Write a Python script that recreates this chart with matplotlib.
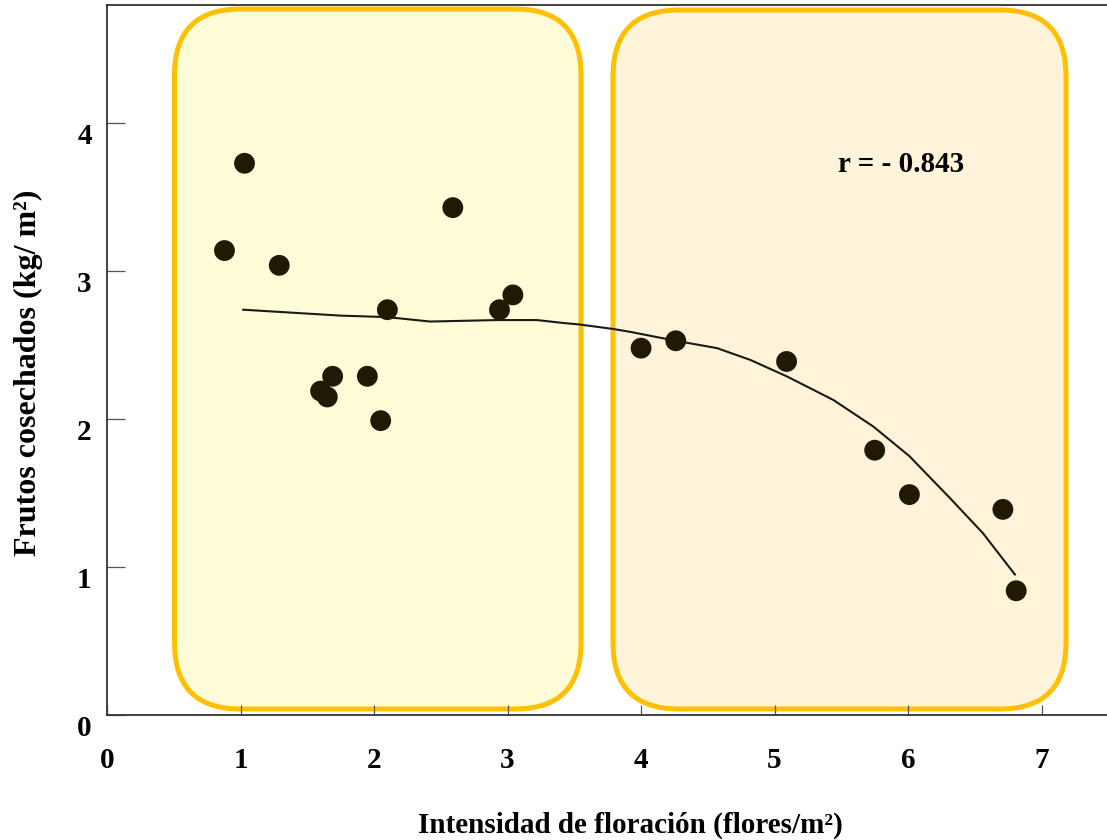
import matplotlib
matplotlib.use('Agg')
import matplotlib.pyplot as plt
import matplotlib.transforms as mtransforms
from matplotlib.patches import FancyBboxPatch

plt.rcParams['font.family'] = ['Liberation Serif', 'DejaVu Serif']
plt.rcParams['font.weight'] = 'bold'

# observed points
flores = [0.88, 1.03, 1.29, 1.60, 1.65, 1.69, 1.95, 2.05, 2.10, 2.59, 2.94, 3.04,
          4.00, 4.26, 5.09, 5.75, 6.01, 6.71, 6.81]
frutos = [3.14, 3.73, 3.04, 2.19, 2.15, 2.29, 2.29, 1.99, 2.74, 3.43, 2.74, 2.84,
          2.48, 2.53, 2.39, 1.79, 1.49, 1.39, 0.84]

# fitted curve
curva_x = [1.02, 1.75, 2.10, 2.42, 2.92, 3.22, 3.42, 3.54, 3.79, 3.92, 4.26, 4.57,
           4.82, 5.09, 5.44, 5.74, 6.01, 6.31, 6.56, 6.80]
curva_y = [2.74, 2.70, 2.69, 2.66, 2.67, 2.67, 2.65, 2.64, 2.61, 2.59, 2.53, 2.48,
           2.40, 2.29, 2.13, 1.95, 1.75, 1.47, 1.23, 0.95]

xticks = [0, 1, 2, 3, 4, 5, 6, 7]
yticks = [0, 1, 2, 3, 4]

W, H = 1107, 840
fig = plt.figure(figsize=(W / 100, H / 100), dpi=100)
ax = fig.add_axes([107 / W, 125 / H, 1 - 107 / W, 710 / H])
ax.set_facecolor('none')

# highlight boxes (pixel coords)
boxes = [(174.5, 131, 406.5, 700, '#FFFDD8'),
         (613, 131, 453, 699, '#FFF4DA')]
for x0, y0, w, h, fc in boxes:
    p = FancyBboxPatch((x0, y0), w, h, boxstyle='round,pad=0,rounding_size=66',
                       transform=None, facecolor=fc, edgecolor='#FFC000',
                       linewidth=3.6, zorder=-1)
    fig.patches.append(p)

ax.plot(curva_x, curva_y, color='#1a1a14', lw=1.5, zorder=3)
ax.scatter(flores, frutos, s=225, color='#201a04', edgecolors='none', zorder=4)

ax.set_xlim(0, 7.49)
ax.set_ylim(0, 4.8)
ax.set_xticks(xticks)
ax.set_yticks(yticks)
ax.tick_params(axis='y', direction='in', length=13, width=0.9, color='#555555',
               labelsize=21, pad=11)
ax.tick_params(axis='x', direction='in', length=7, width=0.9, color='#555555',
               labelsize=21, pad=23)
shift = mtransforms.ScaledTranslation(0, -10 / 100, fig.dpi_scale_trans)
for lbl in ax.get_yticklabels():
    lbl.set_transform(lbl.get_transform() + shift)

ax.spines['right'].set_visible(False)
for s in ['left', 'bottom', 'top']:
    ax.spines[s].set_color('#333333')
    ax.spines[s].set_linewidth(1.3)

ax.set_xlabel('Intensidad de floración (flores/m²)', fontsize=21, fontweight='bold', va='center')
ax.xaxis.set_label_coords(0.523, -0.155)
ax.set_ylabel('Frutos cosechados (kg/ m²)', fontsize=23, fontweight='bold', va='center')
ax.yaxis.set_label_coords(-0.079, 0.482)
ax.text(5.95, 3.72, 'r = - 0.843', fontsize=21, fontweight='bold', ha='center', va='center')

plt.savefig('out.png', dpi=100)
plt.close()
